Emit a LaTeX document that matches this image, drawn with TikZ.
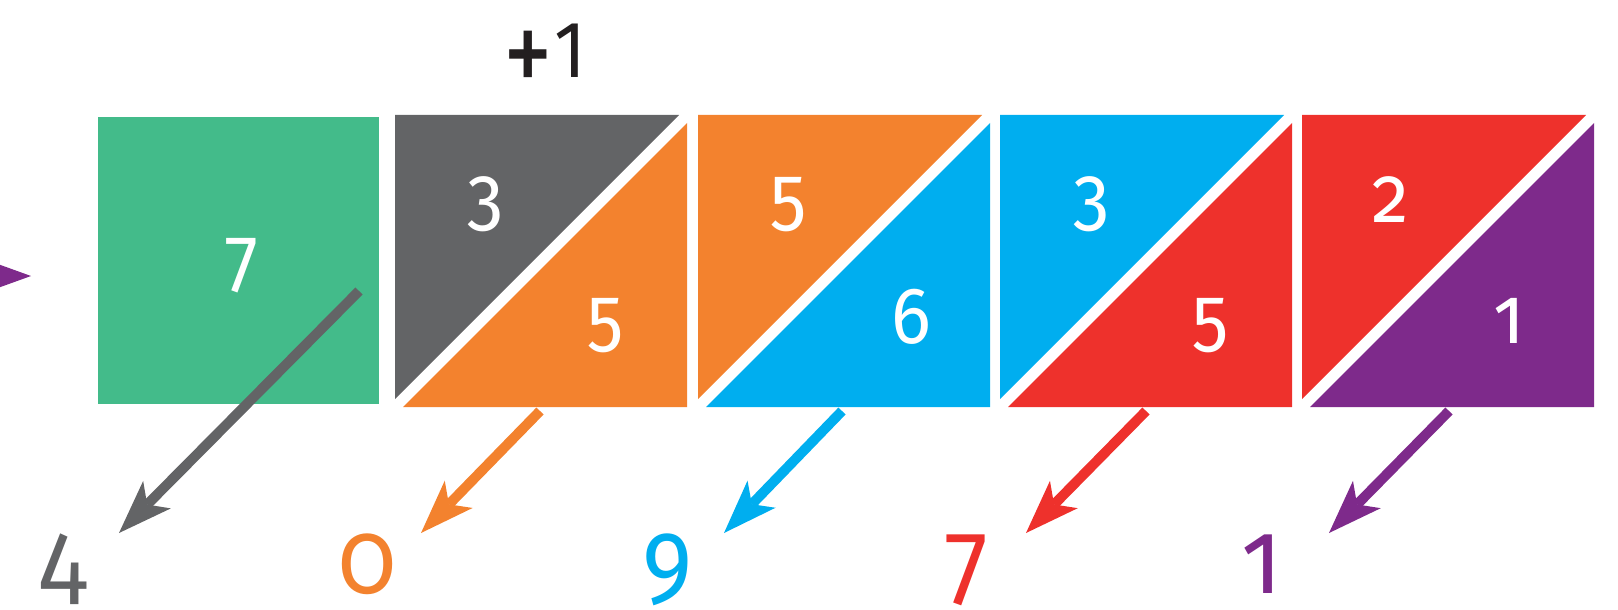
\documentclass[tikz,border=0pt]{standalone}
\usepackage{fontspec}
\setmainfont{Fira Sans}[Numbers=OldStyle,FakeStretch=0.92]
\newfontfamily\liningfont{Fira Sans}[Numbers=Lining,FakeStretch=0.92]
\usetikzlibrary{arrows.meta}
\definecolor{cellgreen}{RGB}{67,187,138}
\definecolor{cellgray}{RGB}{99,100,102}
\definecolor{cellorange}{RGB}{243,130,46}
\definecolor{cellblue}{RGB}{0,174,239}
\definecolor{cellred}{RGB}{238,49,44}
\definecolor{cellpurple}{RGB}{126,42,139}
\definecolor{carryblack}{RGB}{35,31,32}
\tikzset{
  digit/.style={inner sep=0pt, anchor=base, text=white, font=\fontsize{40}{40}\selectfont},
  result/.style={inner sep=0pt, anchor=base, font=\fontsize{52}{52}\selectfont},
  carry/.style={line width=5pt, -{Stealth[length=27pt,width=19.5pt,inset=7pt,line width=0pt]}}
}
\begin{document}
\begin{tikzpicture}[x=0.5pt,y=-0.5pt]
\useasboundingbox (0,0) rectangle (1618,610);
% Green cell
\fill[cellgreen] (98,117) rectangle (379,404);
\node[digit] (g7) at (242,283) {7};
% Gray and orange cell
\fill[cellgray] (395,115) -- (679,115) -- (395,399) -- cycle;
\fill[cellorange] (403,407) -- (687,407) -- (687,123) -- cycle;
\node[digit] (a3) at (485,222) {3};
\node[digit] (b5) at (606,343) {5};
% Orange and blue cell
\fill[cellorange] (698,115) -- (982,115) -- (698,399) -- cycle;
\fill[cellblue] (706,407) -- (990,407) -- (990,123) -- cycle;
\node[digit] (c5) at (789,222) {5};
\node[digit] (d6) at (911,343) {6};
% Blue and red cell
\fill[cellblue] (1000,115) -- (1284,115) -- (1000,399) -- cycle;
\fill[cellred] (1008,407) -- (1292,407) -- (1292,123) -- cycle;
\node[digit] (e3) at (1091,222) {3};
\node[digit] (f5) at (1211,343) {5};
% Red and purple cell
\fill[cellred] (1302,115) -- (1586,115) -- (1302,399) -- cycle;
\fill[cellpurple] (1310,407) -- (1594,407) -- (1594,123) -- cycle;
\node[digit] (h2) at (1391,222) {2};
\node[digit] (k1) at (1509,343) {1};
% Carry
\node[font={\liningfont\fontsize{40}{40}\selectfont}, text=carryblack, inner sep=0pt, anchor=base] (plus1) at (545,78) {\raisebox{-9pt}{\scalebox{1.35}[1.55]{+}}\kern1pt 1};
% Result digits
\node[result, text=cellgray] (r4) at (63,593) {4};
\node[result, text=cellorange] (r0) at (367,593) {0};
\node[result, text=cellblue] (r9) at (668,593) {9};
\node[result, text=cellred] (r7) at (967,593) {7};
\node[result, text=cellpurple] (r1) at (1262,593) {1};
% Arrows
\coordinate (s4) at (359,291); \coordinate (t4) at (119,533);
\coordinate (s0) at (540,411); \coordinate (t0) at (421,533);
\coordinate (s9) at (842,411); \coordinate (t9) at (724,533);
\coordinate (s7) at (1146,411); \coordinate (t7) at (1026,533);
\coordinate (s1) at (1449,411); \coordinate (t1) at (1329,533);
\coordinate (in) at (-100,276); \coordinate (inT) at (31,276);
\draw[carry, cellgray] (s4) -- (t4);
\draw[carry, cellorange] (s0) -- (t0);
\draw[carry, cellblue] (s9) -- (t9);
\draw[carry, cellred] (s7) -- (t7);
\draw[carry, cellpurple] (s1) -- (t1);
\draw[carry, cellpurple] (in) -- (inT);
\end{tikzpicture}
\end{document}
